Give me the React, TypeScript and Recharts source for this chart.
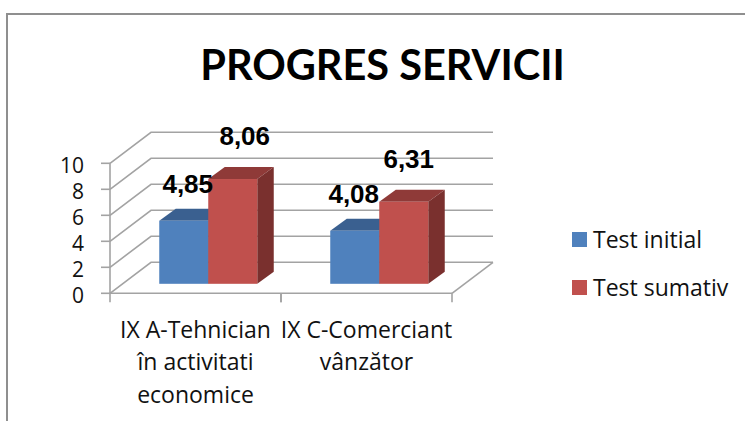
import React from "react";
import { BarChart, Bar, XAxis, YAxis, CartesianGrid, Legend, LabelList } from "recharts";

const categories = ["IX A-Tehnician\nîn activitati\neconomice", "IX C-Comerciant\nvânzător"];
const testInitial = [4.85, 4.08];
const testSumativ = [8.06, 6.31];
const yTicks = [0, 2, 4, 6, 8, 10];

const chartData = categories.map((name, i) => ({
  name,
  initial: testInitial[i],
  sumativ: testSumativ[i],
}));

const W = 745;
const H = 421;
const PLOT_LEFT = 110;
const PLOT_RIGHT = 452;
const PLOT_TOP = 163.3;
const PLOT_BOTTOM = 293.3;
const BAND = (PLOT_RIGHT - PLOT_LEFT) / categories.length;

// fake 3D: how far the back wall sits from the front, and the bar depth
const WALL_DX = 41;
const WALL_DY = 31;
const BAR_DX = 16.5;
const BAR_DY = 12;
const BAR_SHIFT_X = (WALL_DX - BAR_DX) / 2;
const BAR_SHIFT_Y = (WALL_DY - BAR_DY) / 2;

const GREY = "#a3a3a3";
const TITLE_FONT = "Lato, sans-serif";
const BODY_FONT = "'Open Sans', sans-serif";
const BODY_SIZE = 23;

const shades: Record<string, { top: string; side: string }> = {
  "#4f81bd": { top: "#3a6090", side: "#345780" },
  "#c0504d": { top: "#8f3a38", side: "#7a302e" },
};

const Bar3D = (props: any) => {
  const { fill, width, height } = props;
  const x = props.x + BAR_SHIFT_X;
  const y = props.y - BAR_SHIFT_Y;
  const s = shades[fill];
  return (
    <g>
      <polygon
        points={`${x},${y} ${x + BAR_DX},${y - BAR_DY} ${x + width + BAR_DX},${y - BAR_DY} ${x + width},${y}`}
        fill={s.top}
      />
      <polygon
        points={`${x + width},${y} ${x + width + BAR_DX},${y - BAR_DY} ${x + width + BAR_DX},${y + height - BAR_DY} ${x + width},${y + height}`}
        fill={s.side}
      />
      <rect x={x} y={y} width={width} height={height} fill={fill} />
    </g>
  );
};

const GridLine3D = (props: any) => {
  const { x1, x2, y1 } = props;
  const backY = y1 - WALL_DY;
  const isFloor = Math.abs(y1 - PLOT_BOTTOM) < 1;
  return (
    <g key={props.key}>
      <path
        d={`M${x1},${y1} L${x1 + WALL_DX},${backY} L${x2 + WALL_DX},${backY}`}
        fill="none"
        stroke={GREY}
        strokeWidth={1.6}
      />
      {isFloor && (
        <path d={`M${x2},${y1} L${x2 + WALL_DX},${backY}`} fill="none" stroke={GREY} strokeWidth={1.6} />
      )}
    </g>
  );
};

const CategoryTick = (props: any) => {
  const { x, y, payload } = props;
  const lines: string[] = String(payload.value).split("\n");
  return (
    <g>
      <line x1={x - BAND / 2} x2={x - BAND / 2} y1={PLOT_BOTTOM} y2={PLOT_BOTTOM + 9} stroke={GREY} strokeWidth={1.6} />
      <line x1={x + BAND / 2} x2={x + BAND / 2} y1={PLOT_BOTTOM} y2={PLOT_BOTTOM + 9} stroke={GREY} strokeWidth={1.6} />
      {lines.map((line, i) => (
        <text key={line} x={x} y={y + 36.5 + i * 32.5} textAnchor="middle" fontFamily={BODY_FONT} fontSize={BODY_SIZE} fill="#111">
          {line}
        </text>
      ))}
    </g>
  );
};

const makeValueLabel = (nudgeX: number[], rise: number) => (props: any) => {
  const { x, y, width, value, index } = props;
  return (
    <text
      x={x + width / 2 + BAR_SHIFT_X + nudgeX[index]}
      y={y - BAR_SHIFT_Y - rise}
      textAnchor="middle"
      dominantBaseline="central"
      fontFamily="'Liberation Sans', Arial, sans-serif"
      fontWeight="bold"
      fontSize={26}
      fill="#000"
    >
      {Number(value).toFixed(2).replace(".", ",")}
    </text>
  );
};

const LegendBox = (props: any) => (
  <div>
    {props.payload.map((p: any) => (
      <div key={p.value} style={{ display: "flex", alignItems: "center", height: 48 }}>
        <span style={{ width: 15, height: 15, background: p.color, marginRight: 6 }} />
        <span style={{ fontFamily: BODY_FONT, fontSize: BODY_SIZE, color: "#111" }}>{p.value}</span>
      </div>
    ))}
  </div>
);

export default function App() {
  return (
    <div style={{ position: "absolute", left: 0, top: 0, width: W, height: H, overflow: "hidden", background: "#fff" }}>
      <div style={{ position: "absolute", left: 6, top: 13, width: 2, height: H, background: "#8f8f8f" }} />
      <div style={{ position: "absolute", left: 6, top: 13, width: W, height: 2, background: "#8f8f8f" }} />
      <div
        style={{
          position: "absolute",
          left: 0,
          top: 38,
          width: 765,
          textAlign: "center",
          fontFamily: TITLE_FONT,
          fontWeight: 700,
          fontSize: 41.5,
          lineHeight: "52px",
          color: "#000",
        }}
      >
        PROGRES SERVICII
      </div>
      <BarChart
        width={W}
        height={H}
        data={chartData}
        barSize={49}
        barGap={0}
        margin={{ top: PLOT_TOP, right: W - PLOT_RIGHT, bottom: 27.7, left: PLOT_LEFT - 60 }}
        style={{ position: "absolute", left: 0, top: 0 }}
      >
        <CartesianGrid vertical={false} horizontal={GridLine3D as any} />
        <XAxis
          dataKey="name"
          interval={0}
          height={100}
          tick={CategoryTick}
          tickLine={false}
          axisLine={{ stroke: GREY, strokeWidth: 1.6 }}
        />
        <YAxis
          domain={[0, 10]}
          ticks={yTicks}
          interval={0}
          width={60}
          tickSize={9}
          tickMargin={17}
          dy={2}
          tick={{ fontFamily: BODY_FONT, fontSize: 21, fill: "#111" }}
          axisLine={{ stroke: GREY, strokeWidth: 1.6 }}
          tickLine={{ stroke: GREY, strokeWidth: 1.6 }}
        />
        <Legend
          layout="horizontal"
          verticalAlign="middle"
          content={LegendBox}
          wrapperStyle={{ position: "absolute", left: 572, top: 215, width: 173 }}
        />
        <Bar dataKey="initial" name="Test initial" fill="#4f81bd" shape={Bar3D} isAnimationActive={false}>
          <LabelList dataKey="initial" content={makeValueLabel([4, -1], 37)} />
        </Bar>
        <Bar dataKey="sumativ" name="Test sumativ" fill="#c0504d" shape={Bar3D} isAnimationActive={false}>
          <LabelList dataKey="sumativ" content={makeValueLabel([12, 5], 43)} />
        </Bar>
      </BarChart>
    </div>
  );
}
